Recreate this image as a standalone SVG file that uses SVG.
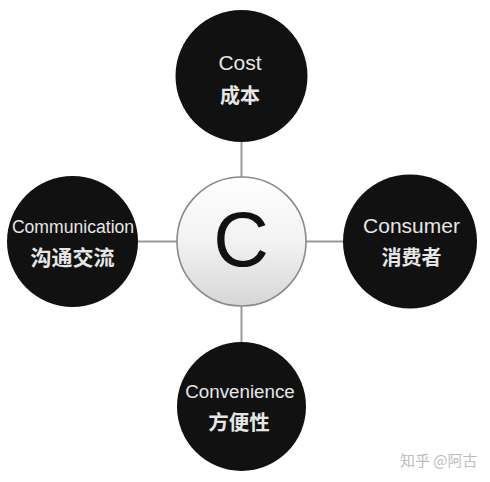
<svg xmlns="http://www.w3.org/2000/svg" width="490" height="482" viewBox="0 0 490 482">
  <defs>
    <linearGradient id="cgrad" x1="0" y1="0" x2="0" y2="1">
      <stop offset="0" stop-color="#ffffff"/>
      <stop offset="0.5" stop-color="#f2f2f2"/>
      <stop offset="1" stop-color="#d6d6d6"/>
    </linearGradient>
  </defs>
  <style>
    .outer { fill: #111111; }
    .lat { font-family: "Liberation Sans", Arial, sans-serif; fill: #e6e6e6; text-anchor: middle; }
    .cjk { font-family: "Noto Sans CJK SC", "Noto Sans", sans-serif; fill: #e6e6e6; text-anchor: middle; font-weight: 700; }
    .conn { stroke: #9a9a9a; stroke-width: 2; fill: none; }
  </style>
  <rect width="490" height="482" fill="#ffffff"/>
  <g id="connectors">
    <line class="conn" x1="241.5" y1="140" x2="241.5" y2="177"/>
    <line class="conn" x1="241.5" y1="306" x2="241.5" y2="343"/>
    <line class="conn" x1="136" y1="241.5" x2="177" y2="241.5"/>
    <line class="conn" x1="306" y1="241.5" x2="345" y2="241.5"/>
  </g>
  <g id="center">
    <circle cx="241.5" cy="241.5" r="64.5" fill="url(#cgrad)" stroke="#8a8a8a" stroke-width="1.6"/>
    <text x="241" y="265.5" font-family="Liberation Sans, Arial, sans-serif" font-size="77" fill="#111111" text-anchor="middle">C</text>
  </g>
  <g id="cost">
    <circle class="outer" cx="241.5" cy="76" r="66"/>
    <text class="lat" x="240" y="70" font-size="21">Cost</text>
    <text class="cjk" x="240" y="102.5" font-size="20">成本</text>
  </g>
  <g id="communication">
    <circle class="outer" cx="72.5" cy="241.5" r="65.5"/>
    <text class="lat" x="73" y="233.3" font-size="17.6">Communication</text>
    <text class="cjk" x="72.5" y="265" font-size="21">沟通交流</text>
  </g>
  <g id="consumer">
    <circle class="outer" cx="410" cy="241.5" r="67"/>
    <text class="lat" x="411.5" y="233.3" font-size="21">Consumer</text>
    <text class="cjk" x="411.5" y="265" font-size="20">消费者</text>
  </g>
  <g id="convenience">
    <circle class="outer" cx="241.5" cy="406.5" r="64.5"/>
    <text class="lat" x="240" y="398.3" font-size="18.8">Convenience</text>
    <text class="cjk" x="239" y="430" font-size="20.5">方便性</text>
  </g>
  <text x="400" y="466" font-family="Noto Sans CJK SC, sans-serif" font-size="15" fill="#bdbdbd">知乎 @阿古</text>
</svg>
